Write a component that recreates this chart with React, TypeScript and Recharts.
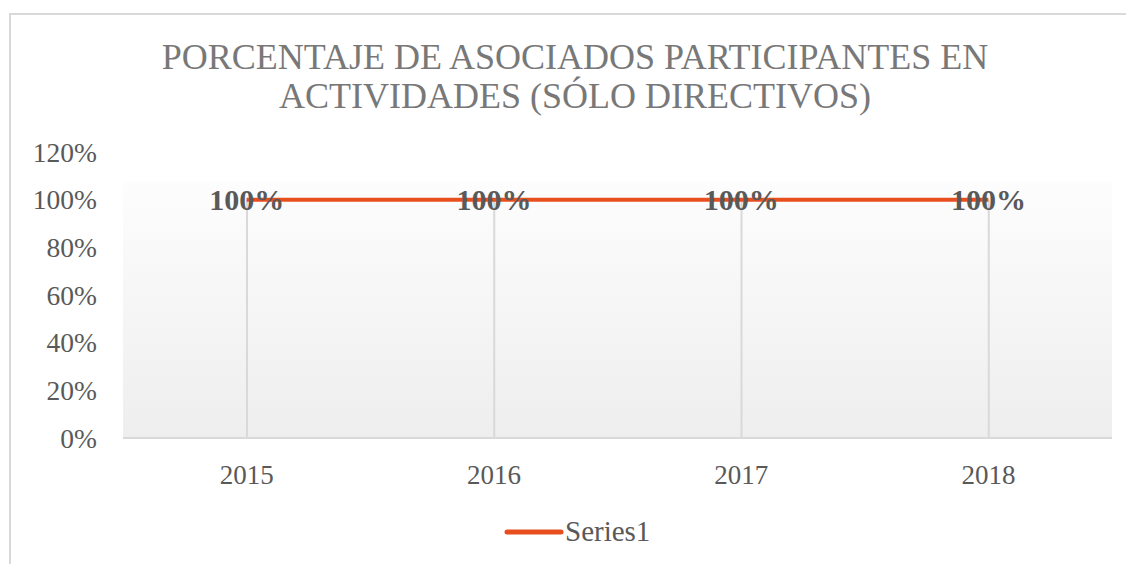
import { ComposedChart, Line, Bar, XAxis, YAxis, CartesianGrid, LabelList } from 'recharts';

const years = ['2015', '2016', '2017', '2018'];
const series1 = [1, 1, 1, 1];
const yTicks = [0, 0.2, 0.4, 0.6, 0.8, 1, 1.2];
const seriesName = 'Series1';
const titleLines = ['PORCENTAJE DE ASOCIADOS PARTICIPANTES EN', 'ACTIVIDADES (SÓLO DIRECTIVOS)'];

const data = years.map((year, i) => ({ year, value: series1[i] }));

const FONT = '"Liberation Serif", "DejaVu Serif", serif';
const LINE_COLOR = '#e84e1e';
const TEXT = '#595959';

const pct = (v: number) => `${Math.round(v * 100)}%`;

function ValueLabel(props: any) {
  const { x, y, value } = props;
  return (
    <text
      x={x}
      y={y}
      dy={10}
      textAnchor="middle"
      fontFamily={FONT}
      fontSize={30}
      fontWeight="bold"
      fill={TEXT}
    >
      {pct(value)}
    </text>
  );
}

export default function App() {
  return (
    <div
      style={{
        position: 'absolute',
        left: 0,
        top: 0,
        width: 1126,
        height: 564,
        overflow: 'hidden',
        background: '#fff',
        fontFamily: FONT,
      }}
    >
      <div
        style={{
          position: 'absolute',
          left: 9,
          top: 13,
          width: 1200,
          height: 700,
          borderLeft: '2px solid #d9d9d9',
          borderTop: '2px solid #d9d9d9',
        }}
      />
      <div
        style={{
          position: 'absolute',
          left: 0,
          top: 38,
          width: 1150,
          textAlign: 'center',
          fontSize: 36,
          lineHeight: '39px',
          color: '#787878',
        }}
      >
        {titleLines.map((t) => (
          <div key={t}>{t}</div>
        ))}
      </div>
      <div style={{ position: 'absolute', left: 0, top: 0 }}>
        <ComposedChart
          width={1126}
          height={564}
          data={data}
          margin={{ top: 152, right: 14, bottom: 96, left: 63 }}
        >
          <defs>
            <linearGradient id="plotBg" x1="0" y1="0" x2="0" y2="1">
              <stop offset="0" stopColor="#ffffff" />
              <stop offset="0.105" stopColor="#ffffff" />
              <stop offset="0.106" stopColor="#fdfdfd" />
              <stop offset="1" stopColor="#eeeeee" />
            </linearGradient>
          </defs>
          <CartesianGrid horizontal={false} vertical={false} fill="url(#plotBg)" />
          <XAxis
            dataKey="year"
            axisLine={{ stroke: '#d9d9d9', strokeWidth: 2 }}
            tickLine={false}
            tickMargin={21}
            tick={{ fill: TEXT, fontSize: 27, fontFamily: FONT }}
          />
          <YAxis
            width={60}
            domain={[0, 1.2]}
            ticks={yTicks}
            tickFormatter={pct}
            axisLine={false}
            tickLine={false}
            tickMargin={20}
            interval={0}
            tick={{ fill: TEXT, fontSize: 27.5, fontFamily: FONT }}
          />
          <Bar dataKey="value" barSize={2} fill="#d9d9d9" isAnimationActive={false} />
          <Line
            dataKey="value"
            name={seriesName}
            stroke={LINE_COLOR}
            strokeWidth={4}
            dot={false}
            activeDot={false}
            isAnimationActive={false}
          >
            <LabelList dataKey="value" content={<ValueLabel />} />
          </Line>
        </ComposedChart>
      </div>
      <div
        style={{
          position: 'absolute',
          left: 504,
          top: 515,
          display: 'flex',
          alignItems: 'center',
          color: TEXT,
          fontSize: 29,
        }}
      >
        <svg width={60} height={10}>
          <line x1={3} y1={5} x2={57} y2={5} stroke={LINE_COLOR} strokeWidth={5} strokeLinecap="round" />
        </svg>
        <span style={{ marginLeft: 1 }}>{seriesName}</span>
      </div>
    </div>
  );
}
